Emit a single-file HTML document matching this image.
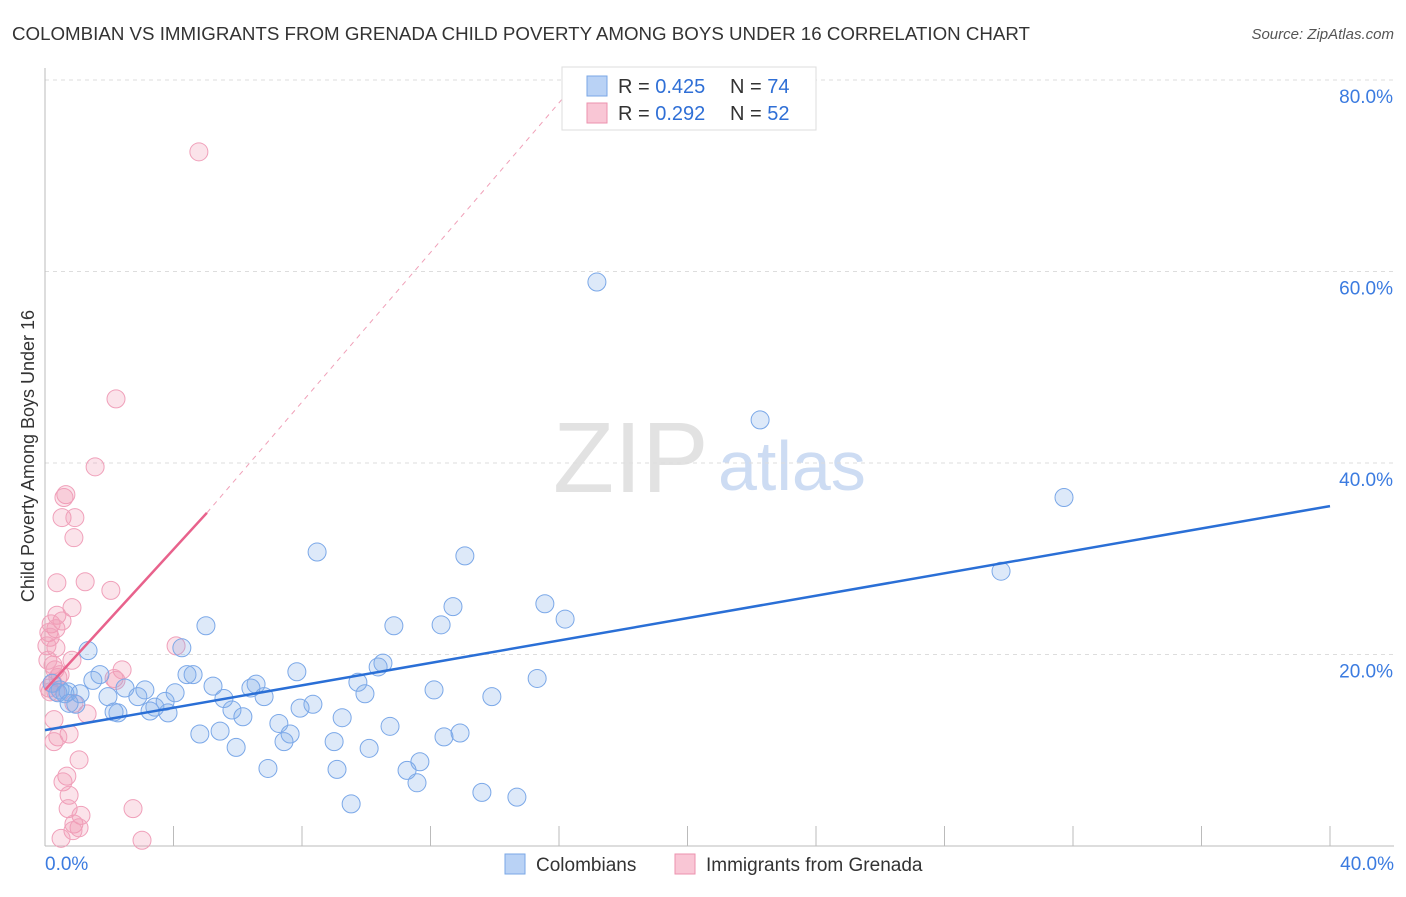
<!DOCTYPE html>
<html><head><meta charset="utf-8"><style>
body{margin:0;background:#fff;font-family:"Liberation Sans",sans-serif}
svg text{font-family:"Liberation Sans",sans-serif}
</style></head><body>
<svg id="chart" width="1406" height="892" xmlns="http://www.w3.org/2000/svg">
<text x="12" y="40" font-size="18" fill="#333" textLength="1018" lengthAdjust="spacingAndGlyphs">COLOMBIAN VS IMMIGRANTS FROM GRENADA CHILD POVERTY AMONG BOYS UNDER 16 CORRELATION CHART</text>
<text x="1394" y="39" font-size="15" fill="#555" text-anchor="end" font-style="italic">Source: ZipAtlas.com</text>
<text x="553" y="492" font-size="100" fill="#e2e2e2" font-family="Liberation Serif">ZIP</text>
<text x="718" y="490" font-size="70" fill="#cddcf3">atlas</text>
<text transform="translate(34,456) rotate(-90)" font-size="18" fill="#333" text-anchor="middle">Child Poverty Among Boys Under 16</text>
<g id="grid"></g><g id="axes"></g><g id="pts"></g><g id="trend"></g>
<g>
<rect x="562" y="67" width="254" height="63" fill="#fff" stroke="#ddd"/>
<rect x="587" y="76" width="20" height="20" fill="#b9d2f5" stroke="#7aa7e6"/>
<rect x="587" y="103" width="20" height="20" fill="#f9c6d5" stroke="#ec92ae"/>
<text x="618" y="93" font-size="20" fill="#333">R = <tspan fill="#2f6fd6">0.425</tspan></text>
<text x="730" y="93" font-size="20" fill="#333">N = <tspan fill="#2f6fd6">74</tspan></text>
<text x="618" y="120" font-size="20" fill="#333">R = <tspan fill="#2f6fd6">0.292</tspan></text>
<text x="730" y="120" font-size="20" fill="#333">N = <tspan fill="#2f6fd6">52</tspan></text>
</g>
<g>
<rect x="505" y="854" width="20" height="20" fill="#b9d2f5" stroke="#7aa7e6"/>
<text x="536" y="871" font-size="19" fill="#333">Colombians</text>
<rect x="675" y="854" width="20" height="20" fill="#f9c6d5" stroke="#ec92ae"/>
<text x="706" y="871" font-size="19" fill="#333">Immigrants from Grenada</text>
</g>
</svg>
<script>
const blueX=[17.18,22.26,31.72,29.76,8.47,13.07,15.56,16.19,12.70,12.33,10.86,5.01,4.26,1.34,15.32,10.52,10.37,7.84,9.74,9.96,12.11,13.91,4.42,4.61,6.57,6.41,5.23,4.05,3.11,2.49,1.71,1.49,0.22,0.47,0.62,0.72,1.09,1.96,3.74,2.89,3.42,3.27,3.83,2.27,2.15,0.96,5.57,6.82,5.82,6.16,8.34,7.94,7.28,7.63,9.25,10.74,4.82,5.45,7.44,5.95,9.00,12.42,12.92,10.09,11.67,11.27,6.94,9.09,11.58,13.60,14.69,9.53,0.40,0.75];
const blueY=[58.9,44.5,36.4,28.7,30.7,30.3,25.3,23.7,25.0,23.1,23.0,23.0,20.7,20.4,17.5,19.1,18.7,18.2,17.1,15.9,16.3,15.6,17.9,17.9,16.9,16.5,16.7,16.0,16.3,16.5,17.9,17.3,17.0,16.3,15.9,16.1,15.9,15.6,15.1,15.6,14.5,14.1,13.9,13.9,14.0,14.8,15.4,15.6,14.2,13.5,14.8,14.4,12.8,11.7,13.4,12.5,11.7,12.0,10.9,10.3,10.9,11.4,11.8,10.2,8.8,7.9,8.1,8.0,6.6,5.6,5.1,4.4,16.0,14.9];
const pinkX=[4.79,2.21,1.56,0.65,0.59,0.53,0.93,0.90,1.25,0.37,2.05,0.84,0.37,0.53,0.19,0.34,0.12,0.16,4.08,0.34,0.06,0.84,0.25,0.31,0.47,0.09,0.12,0.16,0.25,2.40,2.15,2.21,0.40,1.31,0.90,0.28,0.75,0.40,0.28,1.06,0.68,0.56,0.75,0.72,1.12,2.74,0.90,1.06,0.87,0.50,3.02,0.34];
const pinkY=[72.5,46.7,39.6,36.7,36.4,34.3,34.3,32.2,27.6,27.5,26.7,24.9,24.1,23.5,23.2,22.7,22.3,21.8,20.9,20.7,20.9,19.4,18.9,18.4,17.9,19.4,16.5,16.1,17.0,18.4,17.5,17.3,17.6,13.8,14.9,13.2,11.7,11.4,10.9,9.0,7.3,6.7,5.3,3.9,3.2,3.9,2.3,1.9,1.6,0.8,0.6,16.1];
const blueTrend=[[0,12.1],[40,35.5]];
const pinkTrend=[[0,16.3],[5.04,34.8]];
const pinkDash=[[5.04,34.8],[16.2,78.4]];
const yTicks=[20,40,60,80];
const xTickVals=[0,4,8,12,16,20,24,28,32,36,40];
const NS="http://www.w3.org/2000/svg";
const sx=v=>45+v*32.125, sy=v=>846-v*9.575;
function mk(tag,attrs,parent){const e=document.createElementNS(NS,tag);for(const k in attrs)e.setAttribute(k,attrs[k]);document.getElementById(parent).appendChild(e);return e;}
yTicks.forEach(t=>{
 const l=mk('line',{x1:45,x2:1394,y1:sy(t),y2:sy(t),stroke:'#ddd','stroke-dasharray':'4,4'},'grid');
 
 
 const tx=mk('text',{x:1393,y:sy(t)+23,'font-size':19,fill:'#3b7be0','text-anchor':'end'},'grid');tx.textContent=t.toFixed(1)+'%';
 
 
});
const ax=mk('line',{x1:45,x2:45,y1:68,y2:846,stroke:'#bbb'},'axes');


const bx=mk('line',{x1:45,x2:1394,y1:846,y2:846,stroke:'#bbb'},'axes');


xTickVals.forEach(t=>{const l=mk('line',{x1:sx(t),x2:sx(t),y1:826,y2:846,stroke:'#bbb'},'axes');
 
 });
[[0,'0.0%','start',45],[40,'40.0%','end',1394]].forEach(d=>{const t=mk('text',{x:d[3],y:870,'font-size':19,fill:'#3b7be0','text-anchor':d[2]},'axes');t.textContent=d[1];
 
 });
pinkX.forEach((x,i)=>{const c=mk('circle',{cx:sx(x),cy:sy(pinkY[i]),r:9,fill:'rgba(240,150,178,0.27)',stroke:'#f0a0ba','stroke-width':1},'pts');
 
 });
blueX.forEach((x,i)=>{const c=mk('circle',{cx:sx(x),cy:sy(blueY[i]),r:9,fill:'rgba(130,172,232,0.27)',stroke:'#7ba8e8','stroke-width':1},'pts');
 
 });
const bt=mk('line',{x1:sx(blueTrend[0][0]),y1:sy(blueTrend[0][1]),x2:sx(blueTrend[1][0]),y2:sy(blueTrend[1][1]),stroke:'#2a6fd6','stroke-width':2.5},'trend');


const pt=mk('line',{x1:sx(pinkTrend[0][0]),y1:sy(pinkTrend[0][1]),x2:sx(pinkTrend[1][0]),y2:sy(pinkTrend[1][1]),stroke:'#e8628c','stroke-width':2.5},'trend');


const pd=mk('line',{x1:sx(pinkDash[0][0]),y1:sy(pinkDash[0][1]),x2:sx(pinkDash[1][0]),y2:sy(pinkDash[1][1]),stroke:'#f0a0b8','stroke-width':1,'stroke-dasharray':'5,5'},'trend');


</script>
</body></html>
